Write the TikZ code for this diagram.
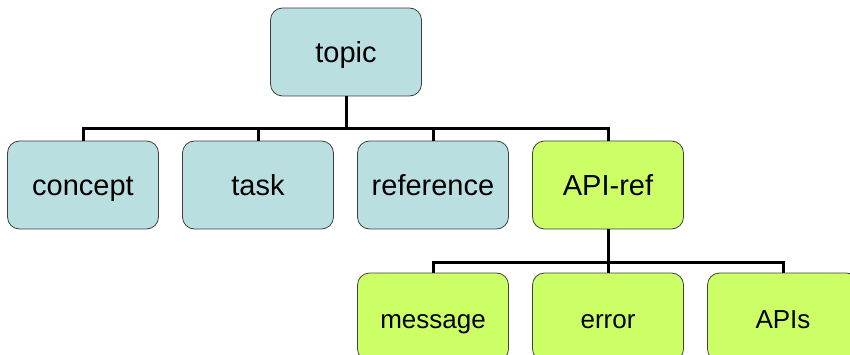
\documentclass[tikz,border=0pt]{standalone}
\usepackage{fontspec}
\setmainfont{Liberation Sans}
\definecolor{boxblue}{HTML}{B9DFE1}
\definecolor{boxgreen}{HTML}{CCFF66}
\definecolor{boxline}{HTML}{404040}
\tikzset{
  box/.style={draw=boxline, line width=0.8pt, rounded corners=12pt,
    minimum width=151pt, minimum height=88pt, inner sep=0pt,
    text height=22pt, text depth=0pt,
    font=\fontsize{29}{34}\selectfont},
  bluebox/.style={box, fill=boxblue},
  greenbox/.style={box, fill=boxgreen},
  smallbox/.style={font=\fontsize{26}{30}\selectfont},
  link/.style={draw=black, line width=3pt}
}
\begin{document}
\begin{tikzpicture}[x=1pt,y=-1pt]
\useasboundingbox (0,0) rectangle (850,355);
\clip (0,0) rectangle (850,355);
\node[bluebox] (topic) at (346,52) {topic};
\node[bluebox] (concept) at (83,185) {concept};
\node[bluebox] (task) at (258,185) {task};
\node[bluebox] (reference) at (433,185) {reference};
\node[greenbox] (apiref) at (608,185) {API-ref};
\node[greenbox,smallbox] (message) at (433,317) {message};
\node[greenbox,smallbox] (error) at (608,317) {error};
\node[greenbox,smallbox] (apis) at (783,317) {APIs};
\coordinate (bus1) at (0,129);
\coordinate (bus2) at (0,262);
\draw[link] (topic.south) -- (topic |- bus1);
\draw[link] (concept.north) -- (concept |- bus1) -- (apiref |- bus1) -- (apiref.north);
\draw[link] (task.north) -- (task |- bus1);
\draw[link] (reference.north) -- (reference |- bus1);
\draw[link] (apiref.south) -- (apiref |- bus2);
\draw[link] (message.north) -- (message |- bus2) -- (apis |- bus2) -- (apis.north);
\draw[link] (error.north) -- (error |- bus2);
\end{tikzpicture}
\end{document}
